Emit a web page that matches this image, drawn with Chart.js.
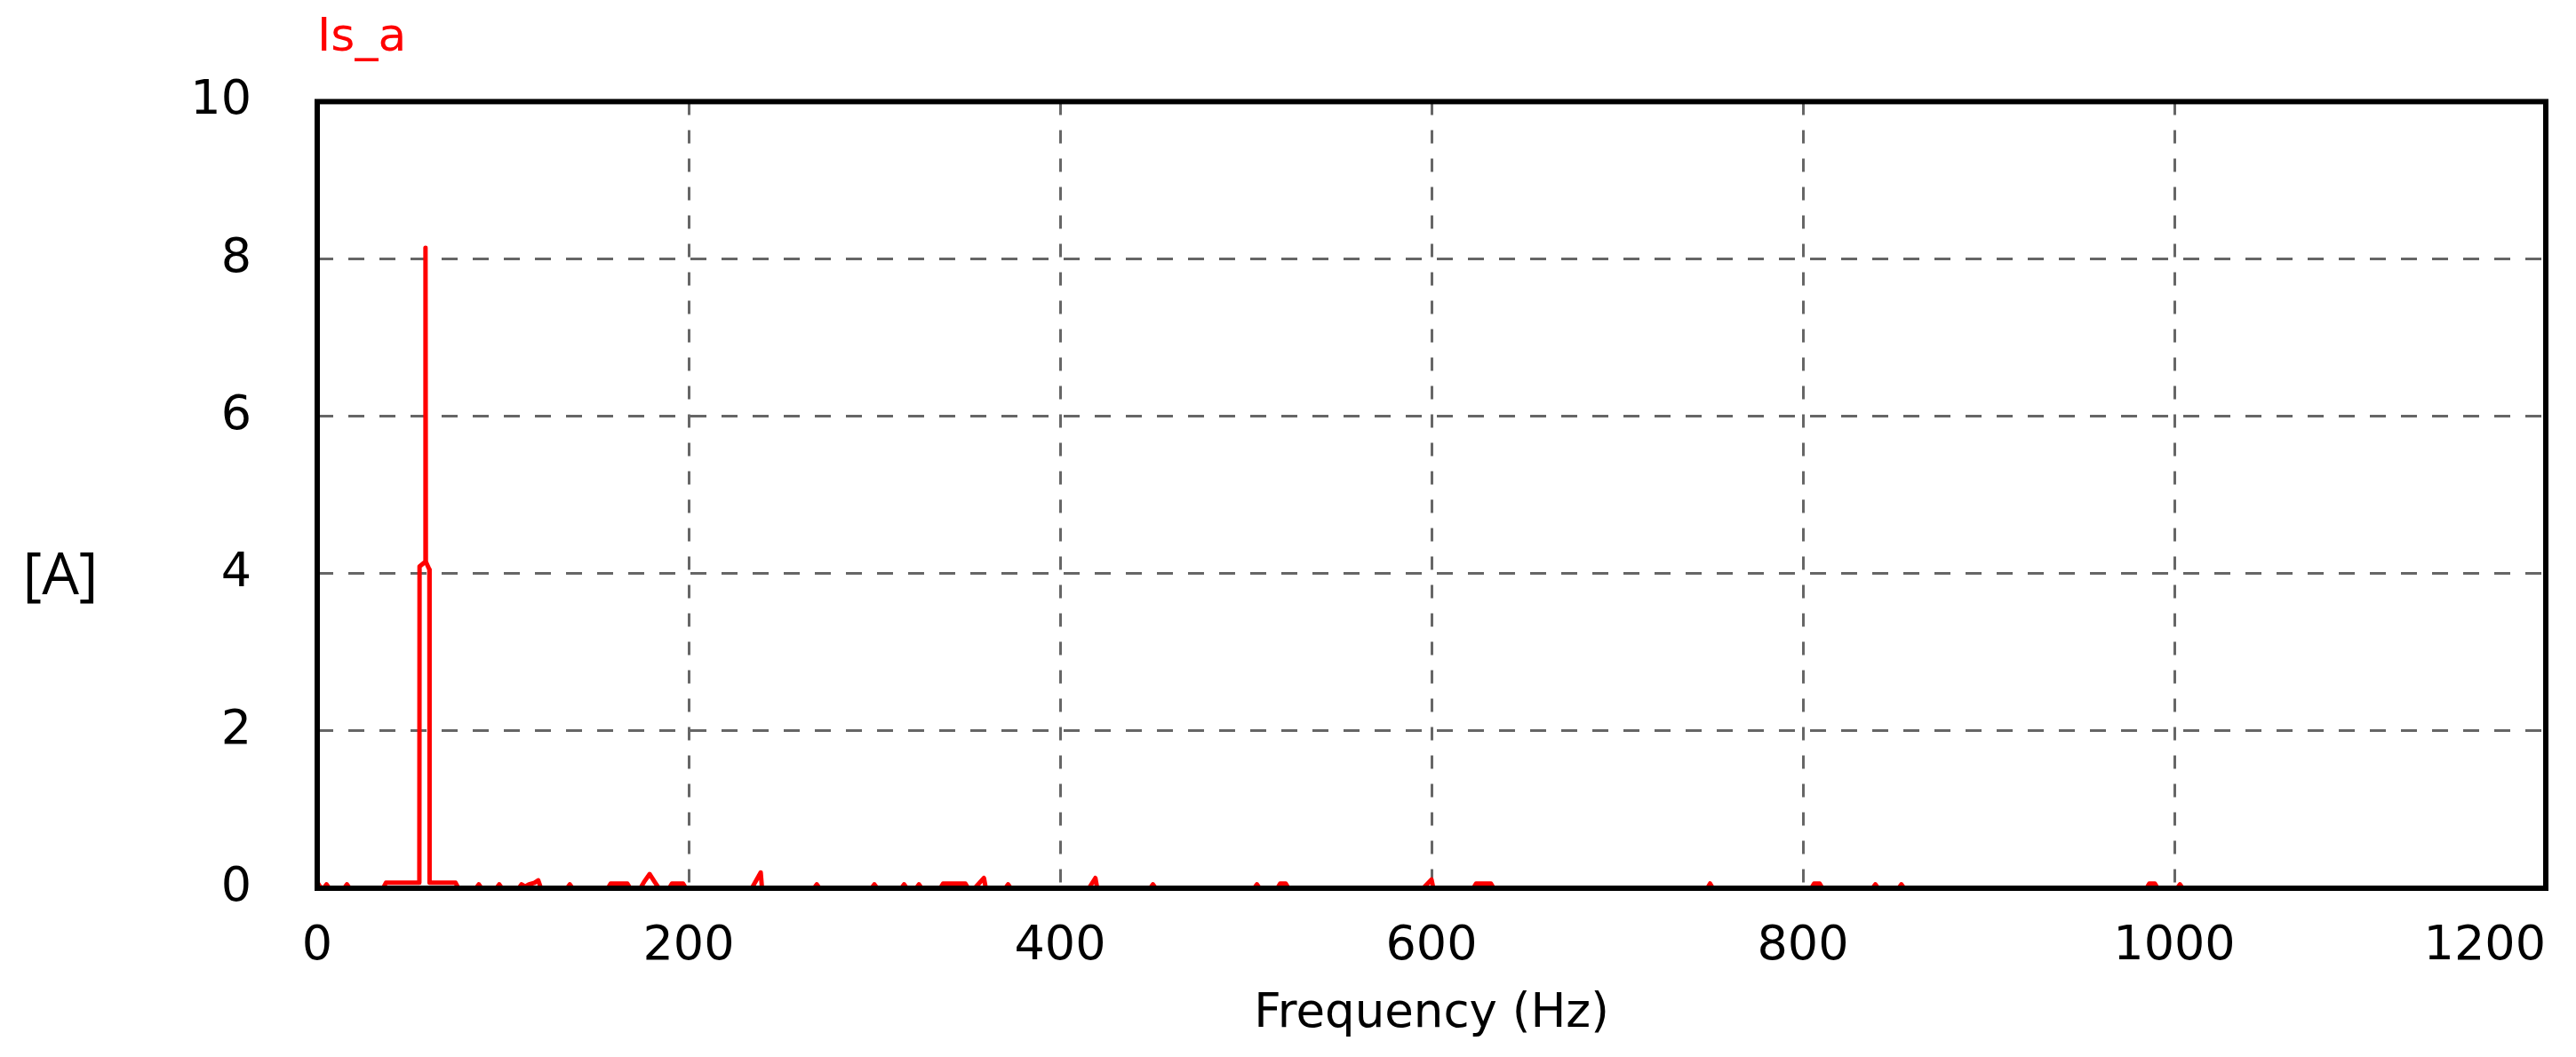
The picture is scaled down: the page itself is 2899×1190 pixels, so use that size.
<!DOCTYPE html>
<html>
<head>
<meta charset="utf-8">
<script src="https://cdn.jsdelivr.net/npm/chart.js@4/dist/chart.umd.min.js"></script>
<style>
  html, body { margin: 0; padding: 0; background: #ffffff; }
  #wrap { width: 2899px; height: 1190px; position: relative; }
</style>
</head>
<body>
<div id="wrap"><canvas id="c" width="2899" height="1190"></canvas></div>
<script>
// ---- data ----
const seriesName = 'Is_a';
const xTitle = 'Frequency (Hz)';
const yUnit = '[A]';
const xTicks = [0, 200, 400, 600, 800, 1000, 1200];
const yTicks = [0, 2, 4, 6, 8, 10];
const freqHz = [
  0, 1.5, 3.5, 5, 6.5, 14.5, 16, 17.5, 35.5, 37,
  55.0, 55.1, 58.2, 58.3, 58.5, 60.4, 60.5, 74.5, 76,
  85.5, 87, 88.5, 96.5, 98, 99.5, 108.5, 110, 112, 114, 117, 119, 120.5,
  134.5, 136, 137.5, 156.5, 158, 167, 168.5, 174, 176, 179, 182, 184,
  189.5, 191, 197, 198.5, 234, 238.8, 239.5, 267.5, 269, 270.5,
  298.5, 300, 301.5, 314.5, 316, 317.5, 322.5, 324, 325.5,
  335.5, 337, 349, 350.5, 354, 359, 360, 370.5, 372, 373.5,
  415.5, 419, 420, 448.5, 450, 451.5, 504.5, 506, 507.5,
  517, 518.5, 521.5, 523, 595.5, 600, 601, 622.5, 624, 632, 633.5,
  748.5, 750, 751.5, 804.5, 806, 809, 810.5, 837.5, 839, 840.5,
  851.5, 853, 854.5, 985, 986.5, 989.5, 991, 1001.5, 1003, 1004.5, 1200
];
const ampA = [
  0.08, 0.02, 0, 0.05, 0, 0, 0.05, 0, 0, 0.07,
  0.07, 4.09, 4.15, 8.14, 4.15, 4.05, 0.07, 0.07, 0,
  0, 0.05, 0, 0, 0.05, 0, 0, 0.05, 0.02, 0.05, 0.07, 0.1, 0,
  0, 0.05, 0, 0, 0.06, 0.06, 0, 0, 0.08, 0.18, 0.07, 0,
  0, 0.06, 0.06, 0, 0, 0.2, 0, 0, 0.05, 0,
  0, 0.05, 0, 0, 0.05, 0, 0, 0.05, 0,
  0, 0.06, 0.06, 0, 0, 0.13, 0, 0, 0.05, 0,
  0, 0.13, 0, 0, 0.05, 0, 0, 0.05, 0,
  0, 0.06, 0.06, 0, 0, 0.11, 0, 0, 0.06, 0.06, 0,
  0, 0.06, 0, 0, 0.06, 0.06, 0, 0, 0.05, 0,
  0, 0.05, 0, 0, 0.06, 0.06, 0, 0, 0.05, 0, 0
];

const points = freqHz.map((f, i) => ({ x: f, y: ampA[i] }));

// frame drawn on top of the data, plus the unrotated unit label
const framePlugin = {
  id: 'frame',
  afterDatasetsDraw(chart) {
    const { ctx, chartArea: a } = chart;
    ctx.save();
    ctx.strokeStyle = '#000000';
    ctx.lineWidth = 6;
    ctx.lineJoin = 'miter';
    ctx.strokeRect(a.left, a.top, a.right - a.left, a.bottom - a.top);
    ctx.restore();
  },
  afterDraw(chart) {
    const { ctx, chartArea: a } = chart;
    ctx.save();
    ctx.fillStyle = '#000000';
    ctx.font = '66px "Open Sans"';
    ctx.textAlign = 'center';
    ctx.textBaseline = 'middle';
    ctx.fillText(yUnit, 68, a.top + (a.bottom - a.top) * 0.605);
    ctx.restore();
  }
};

const tickFont = { family: 'DejaVu Sans', size: 54 };

new Chart(document.getElementById('c'), {
  type: 'scatter',
  data: {
    datasets: [{
      label: seriesName,
      data: points,
      showLine: true,
      borderColor: '#ff0000',
      backgroundColor: '#ff0000',
      borderWidth: 5,
      pointRadius: 0,
      tension: 0,
      borderCapStyle: 'round',
      borderJoinStyle: 'round'
    }]
  },
  options: {
    responsive: false,
    devicePixelRatio: 1,
    animation: false,
    layout: { padding: { left: 217, right: 30, top: 0, bottom: 0 } },
    plugins: {
      legend: { display: false },
      tooltip: { enabled: false },
      title: {
        display: true,
        text: seriesName,
        align: 'start',
        fullSize: false,
        color: '#ff0000',
        font: { family: 'DejaVu Sans', size: 52, weight: 'normal' },
        padding: { top: 12, bottom: 40 }
      }
    },
    scales: {
      x: {
        type: 'linear',
        min: xTicks[0],
        max: xTicks[xTicks.length - 1],
        // a leading blank tick keeps the "0" label centred while the last label stays inside
        afterBuildTicks: (s) => { s.ticks = [{ value: xTicks[0] }].concat(xTicks.map(v => ({ value: v }))); },
        afterFit: (s) => { s.height = 190; },
        ticks: {
          color: '#000000', font: tickFont, padding: 34, align: 'inner',
          maxRotation: 0, autoSkip: false,
          callback: (v, i) => (i === 0 ? '' : String(v))
        },
        grid: { color: '#666666', lineWidth: 3, drawTicks: false },
        border: { display: false, dash: [15, 17] },
        title: {
          display: true,
          text: xTitle,
          color: '#000000',
          font: { family: 'DejaVu Sans', size: 53 },
          padding: { top: 12, bottom: 16 }
        }
      },
      y: {
        type: 'linear',
        min: yTicks[0],
        max: yTicks[yTicks.length - 1],
        afterBuildTicks: (s) => { s.ticks = yTicks.map(v => ({ value: v })); },
        afterFit: (s) => { s.width = 140; },
        ticks: { color: '#000000', font: tickFont, padding: 74, callback: (v) => String(v) },
        grid: { color: '#666666', lineWidth: 3, drawTicks: false },
        border: { display: false, dash: [18, 17] }
      }
    }
  },
  plugins: [framePlugin]
});
</script>
</body>
</html>
